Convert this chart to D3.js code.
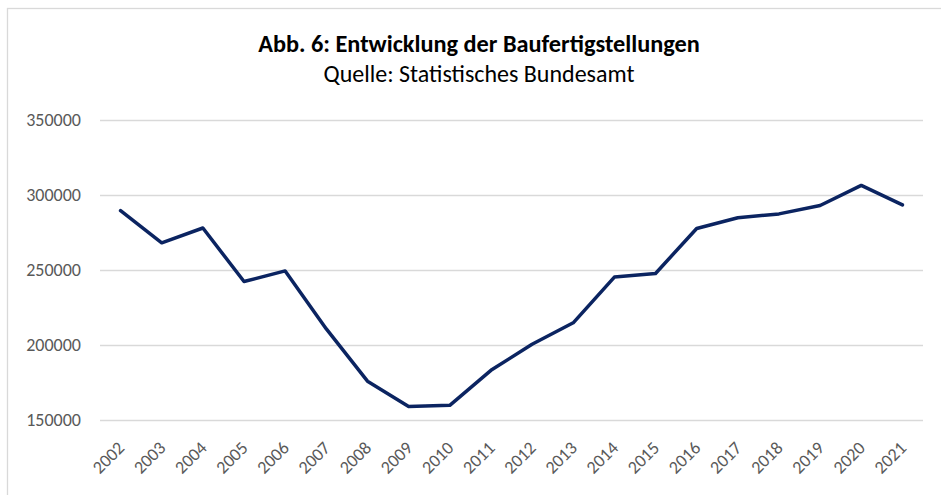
<!DOCTYPE html>
<html>
<head>
<meta charset="utf-8">
<script src="https://cdn.jsdelivr.net/npm/d3@7"></script>
<style>
  html, body { margin: 0; padding: 0; background: #fff; }
  svg { display: block; }
  svg text { font-family: Carlito, Calibri, Lato, sans-serif; }
</style>
</head>
<body>
<div id="chart"></div>
<script>
// Baufertigstellungen (Wohnungen) 2002-2021
const years = ["2002", "2003", "2004", "2005", "2006", "2007", "2008", "2009", "2010", "2011",
  "2012", "2013", "2014", "2015", "2016", "2017", "2018", "2019", "2020", "2021"];
const completions = [289600, 268100, 278000, 242300, 249400, 210700, 175900, 159000, 159800, 183100,
  200500, 214800, 245300, 247700, 277700, 284800, 287400, 293000, 306400, 293400];
const yTicks = [150000, 200000, 250000, 300000, 350000];

const width = 941, height = 495;
const margin = { top: 120, right: 18, bottom: 75, left: 100 };

const svg = d3.select("#chart").append("svg")
  .attr("width", width)
  .attr("height", height);

// chart frame (cut off on the right and bottom)
svg.append("rect")
  .attr("x", 7.5).attr("y", 8.5)
  .attr("width", 1000).attr("height", 1000)
  .attr("fill", "none")
  .attr("stroke", "#d9d9d9")
  .attr("stroke-width", 1.3);

// title and source
svg.append("text")
  .attr("x", 479).attr("y", 52)
  .attr("text-anchor", "middle")
  .style("font-size", "24.3px")
  .style("font-weight", "bold")
  .attr("fill", "#000")
  .text("Abb. 6: Entwicklung der Baufertigstellungen");

svg.append("text")
  .attr("x", 479).attr("y", 82)
  .attr("text-anchor", "middle")
  .style("font-size", "24px")
  .attr("fill", "#000")
  .text("Quelle: Statistisches Bundesamt");

// scales
const x = d3.scaleBand()
  .domain(years)
  .range([margin.left, width - margin.right]);

const y = d3.scaleLinear()
  .domain([150000, 350000])
  .range([height - margin.bottom, margin.top]);

const cx = d => x(d) + x.bandwidth() / 2;

// gridlines + y labels
const yAxis = svg.append("g")
  .attr("transform", `translate(${margin.left},0)`)
  .call(d3.axisLeft(y)
    .tickValues(yTicks)
    .tickFormat(d3.format("d"))
    .tickSize(-(width - margin.left - margin.right))
    .tickPadding(19));
yAxis.select(".domain").remove();
yAxis.selectAll(".tick line")
  .attr("stroke", "#d9d9d9")
  .attr("stroke-width", 1.3);
yAxis.selectAll(".tick text")
  .attr("fill", "#595959")
  .style("font-size", "18px");

// x labels, rotated
const xAxis = svg.append("g")
  .attr("transform", `translate(0,${height - margin.bottom})`)
  .call(d3.axisBottom(x).tickSize(0).tickPadding(0));
xAxis.select(".domain").remove();
xAxis.selectAll(".tick text")
  .attr("fill", "#595959")
  .style("font-size", "18px")
  .attr("text-anchor", "end")
  .attr("dy", "0")
  .attr("y", 0)
  .attr("transform", "translate(5,29) rotate(-45)");

// line
const line = d3.line()
  .x((d, i) => cx(years[i]))
  .y(d => y(d));

svg.append("path")
  .datum(completions)
  .attr("fill", "none")
  .attr("stroke", "#0b2461")
  .attr("stroke-width", 3.5)
  .attr("stroke-linejoin", "round")
  .attr("stroke-linecap", "round")
  .attr("d", line);
</script>
</body>
</html>
